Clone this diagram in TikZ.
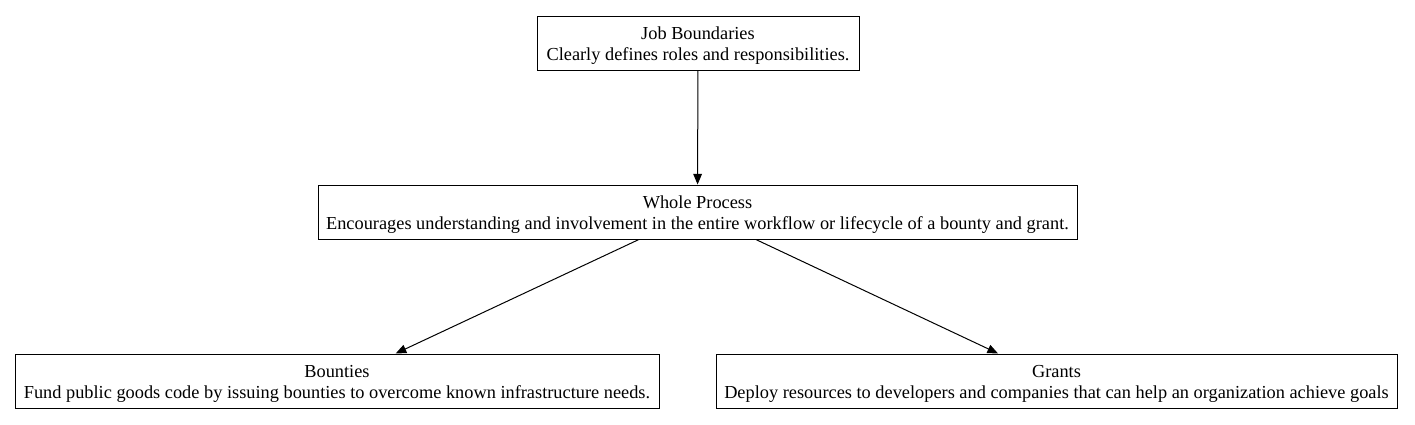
\documentclass[tikz,border=0pt]{standalone}
\usepackage{fontspec}
\setmainfont{Liberation Serif}
\usetikzlibrary{positioning,arrows.meta}
\tikzset{
  stage/.style   = {draw=black, fill=white, line width=0.75pt, align=center,
                    font=\fontsize{13.75}{15.75}\selectfont, inner sep=0pt, minimum height=40.5pt,
                    text height=29.5pt},
  flowto/.style  = {-{Triangle[length=8pt,width=6.5pt]}, draw=black, line width=0.75pt},
}
\begin{document}
\begin{tikzpicture}[x=0.75pt,y=-0.75pt]
  \useasboundingbox (0,0) rectangle (1415,425);

  \node[stage, minimum width=241.5pt]  (jobs)   at (698,43)    {Job Boundaries\\Clearly defines roles and responsibilities.};
  \node[stage, minimum width=569.25pt] (whole)  at (697.5,212) {Whole Process\\Encourages understanding and involvement in the entire workflow or lifecycle of a bounty and grant.};
  \node[stage, minimum width=483pt]    (bounty) at (337,381)   {Bounties\\Fund public goods code by issuing bounties to overcome known infrastructure needs.};
  \node[stage, minimum width=510.75pt] (grants) at (1056.5,381) {Grants\\Deploy resources to developers and companies that can help an organization achieve goals};

  \draw[flowto] (jobs) -- (whole);
  \draw[flowto] (whole) -- (bounty);
  \draw[flowto] (whole) -- (grants);
\end{tikzpicture}
\end{document}
